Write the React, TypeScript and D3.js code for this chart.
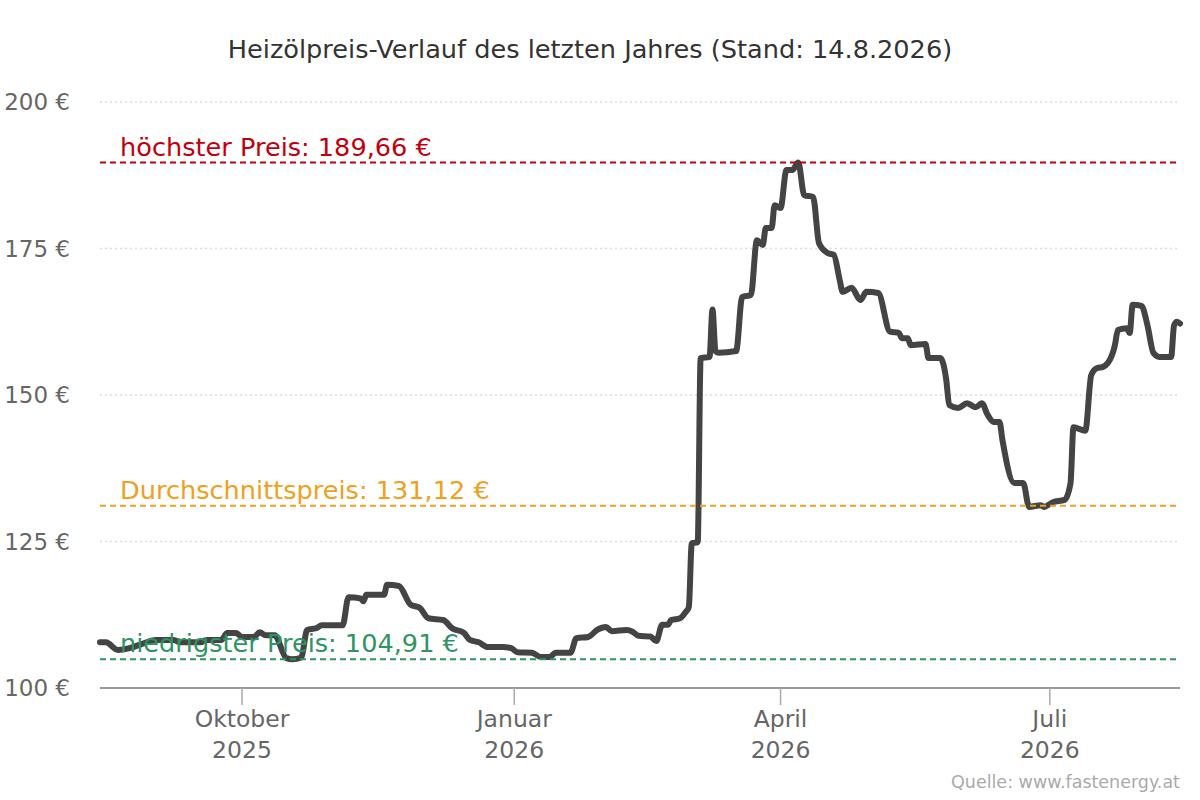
import * as d3 from "d3";

// Heating oil price over the last year
const dates = [
  "2025-08-14", "2025-08-16", "2025-08-20", "2025-08-24", "2025-08-27", "2025-09-02",
  "2025-09-08", "2025-09-10", "2025-09-17", "2025-09-19", "2025-09-24", "2025-09-26",
  "2025-09-29", "2025-10-01", "2025-10-05", "2025-10-07", "2025-10-09", "2025-10-12",
  "2025-10-16", "2025-10-18", "2025-10-21", "2025-10-23", "2025-10-26", "2025-10-28",
  "2025-11-04", "2025-11-06", "2025-11-10", "2025-11-11", "2025-11-12", "2025-11-18",
  "2025-11-19", "2025-11-23", "2025-11-27", "2025-11-30", "2025-12-03", "2025-12-08",
  "2025-12-11", "2025-12-15", "2025-12-17", "2025-12-20", "2025-12-23", "2025-12-28",
  "2025-12-31", "2026-01-02", "2026-01-07", "2026-01-10", "2026-01-13", "2026-01-15",
  "2026-01-20", "2026-01-22", "2026-01-26", "2026-01-29", "2026-02-01", "2026-02-03",
  "2026-02-08", "2026-02-10", "2026-02-12", "2026-02-16", "2026-02-18", "2026-02-20",
  "2026-02-22", "2026-02-23", "2026-02-26", "2026-02-28", "2026-03-01", "2026-03-02",
  "2026-03-04", "2026-03-05", "2026-03-08", "2026-03-09", "2026-03-10", "2026-03-11",
  "2026-03-17", "2026-03-19", "2026-03-22", "2026-03-24", "2026-03-26", "2026-03-27",
  "2026-03-29", "2026-03-30", "2026-04-01", "2026-04-03", "2026-04-05", "2026-04-07",
  "2026-04-09", "2026-04-12", "2026-04-14", "2026-04-17", "2026-04-19", "2026-04-21",
  "2026-04-22", "2026-04-25", "2026-04-28", "2026-04-30", "2026-05-04", "2026-05-08",
  "2026-05-11", "2026-05-12", "2026-05-14", "2026-05-15", "2026-05-20", "2026-05-21",
  "2026-05-25", "2026-05-27", "2026-05-28", "2026-05-31", "2026-06-03", "2026-06-06",
  "2026-06-08", "2026-06-10", "2026-06-12", "2026-06-14", "2026-06-15", "2026-06-19",
  "2026-06-22", "2026-06-24", "2026-06-28", "2026-06-29", "2026-07-02", "2026-07-06",
  "2026-07-08", "2026-07-09", "2026-07-13", "2026-07-15", "2026-07-17", "2026-07-19",
  "2026-07-22", "2026-07-23", "2026-07-24", "2026-07-27", "2026-07-28", "2026-07-29",
  "2026-08-01", "2026-08-03", "2026-08-05", "2026-08-07", "2026-08-11", "2026-08-12",
  "2026-08-13", "2026-08-14",
];

const prices = [
  107.8, 107.8, 106.5, 106.8, 107.3, 108.2,
  108.2, 107.8, 107.8, 108.2, 108.2, 109.4,
  109.4, 108.7, 108.7, 109.5, 109.0, 109.0,
  105.1, 104.91, 105.2, 109.9, 110.2, 110.7,
  110.7, 115.5, 115.3, 114.8, 115.9, 115.9,
  117.6, 117.4, 114.2, 113.7, 111.9, 111.6,
  110.2, 109.4, 108.2, 107.8, 107.0, 107.0,
  106.8, 106.1, 106.0, 105.3, 105.3, 106.0,
  106.0, 108.5, 108.7, 109.9, 110.4, 109.7,
  109.9, 109.6, 108.9, 108.8, 108.0, 110.8,
  110.8, 111.6, 111.9, 113.0, 113.8, 124.7,
  124.9, 156.3, 156.5, 164.6, 157.5, 157.2,
  157.5, 166.7, 167.1, 176.4, 175.6, 178.5,
  178.5, 182.4, 181.9, 188.4, 188.4, 189.66,
  184.1, 183.8, 175.9, 174.2, 173.9, 169.6,
  167.6, 168.3, 166.2, 167.6, 167.4, 160.8,
  160.6, 159.7, 159.7, 158.5, 158.7, 156.3,
  156.3, 152.6, 148.3, 147.8, 148.6, 147.9,
  148.6, 146.6, 145.4, 145.4, 142.3, 135.0,
  135.0, 130.9, 131.2, 130.9, 131.7, 132.1,
  135.0, 144.5, 143.9, 153.4, 154.6, 154.8,
  156.8, 158.5, 161.1, 161.4, 160.6, 165.4,
  165.2, 161.9, 157.2, 156.5, 156.5, 161.9,
  162.5, 162.2,
];

const yTicks = [100, 125, 150, 175, 200];

const xTickDates = ["2025-10-01", "2026-01-01", "2026-04-01", "2026-07-01"];
const xTickMonths = ["Oktober", "Januar", "April", "Juli"];
const xTickYears = ["2025", "2026", "2026", "2026"];

const refValues = [189.66, 131.12, 104.91];
const refLabels = ["höchster Preis: 189,66 €", "Durchschnittspreis: 131,12 €", "niedrigster Preis: 104,91 €"];
const refColors = ["#c0000f", "#f0a020", "#2f9463"];

const width = 1200;
const height = 800;
const marginLeft = 100;
const marginRight = 20;
const marginTop = 102;
const marginBottom = 112;
const font = "'DejaVu Sans', sans-serif";

const parse = d3.timeParse("%Y-%m-%d");

export default function App() {
  const data = dates.map((d, i) => ({ date: parse(d) as Date, value: prices[i] }));

  const x = d3.scaleTime(
    [parse("2025-08-14") as Date, parse("2026-08-14") as Date],
    [marginLeft, width - marginRight]
  );
  const y = d3.scaleLinear([100, 200], [height - marginBottom, marginTop]);

  const line = d3.line<{ date: Date; value: number }>()
    .x(d => x(d.date))
    .y(d => y(d.value))
    .curve(d3.curveMonotoneX);

  const fmt = (v: number) => `${v} €`;

  return (
    <svg
      width={width}
      height={height}
      style={{ position: "absolute", left: 0, top: 0, background: "white" }}
      fontFamily={font}
    >
      {/* Title */}
      <text x={590} y={58} textAnchor="middle" fontSize={25.6} fill="#333">
        Heizölpreis-Verlauf des letzten Jahres (Stand: 14.8.2026)
      </text>

      {/* Horizontal grid lines (dotted) */}
      {yTicks.filter(t => t !== 100).map(t => (
        <line
          key={`grid-${t}`}
          x1={marginLeft}
          x2={width - marginRight}
          y1={y(t)}
          y2={y(t)}
          stroke="#dcdcdc"
          strokeWidth={1.5}
          strokeDasharray="2,3"
        />
      ))}

      {/* Y axis labels */}
      {yTicks.map(t => (
        <text
          key={`ylab-${t}`}
          x={70}
          y={y(t)}
          dy="0.35em"
          textAnchor="end"
          fontSize={23}
          fill="#666"
        >
          {fmt(t)}
        </text>
      ))}

      {/* X axis */}
      <line
        x1={marginLeft}
        x2={width - marginRight}
        y1={y(100)}
        y2={y(100)}
        stroke="#999"
        strokeWidth={2}
      />
      {xTickDates.map((d, i) => {
        const tx = x(parse(d) as Date);
        return (
          <g key={d} transform={`translate(${tx},${y(100)})`}>
            <line y1={0} y2={17} stroke="#aaa" strokeWidth={1.5} />
            <text y={39} textAnchor="middle" fontSize={23.5} fill="#666">{xTickMonths[i]}</text>
            <text y={70} textAnchor="middle" fontSize={23.5} fill="#666">{xTickYears[i]}</text>
          </g>
        );
      })}

      {/* Price line */}
      <path
        d={line(data) ?? ""}
        fill="none"
        stroke="#444"
        strokeWidth={6}
        strokeLinejoin="round"
        strokeLinecap="round"
      />

      {/* Reference lines: max, average, min */}
      {refValues.map((v, i) => (
        <g key={`ref-${i}`}>
          <line
            x1={marginLeft}
            x2={width - marginRight}
            y1={y(v)}
            y2={y(v)}
            stroke={refColors[i]}
            strokeWidth={2}
            strokeDasharray="6,4"
          />
          <text x={120} y={y(v) - 7} fontSize={25.6} fill={refColors[i]}>
            {refLabels[i]}
          </text>
        </g>
      ))}

      {/* Source */}
      <text x={width - 20} y={788} textAnchor="end" fontSize={17.5} fill="#aaa">
        Quelle: www.fastenergy.at
      </text>
    </svg>
  );
}
